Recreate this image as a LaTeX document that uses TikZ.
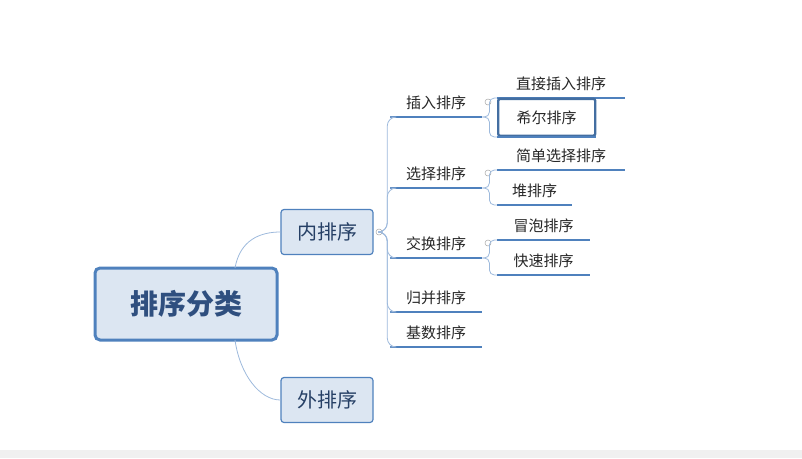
\documentclass[tikz,border=0pt]{standalone}
\usepackage{fontspec}
\setmainfont{Noto Sans CJK SC}
\usepackage{xcolor}
\definecolor{lineblue}{HTML}{4F81BD}
\definecolor{thinblue}{HTML}{9DB9DC}
\definecolor{boxfill}{HTML}{DCE6F2}
\definecolor{titleblue}{HTML}{2F4F7F}
\usetikzlibrary{positioning}

\begin{document}
\begin{tikzpicture}[x=1pt, y=-1pt,
	line/.style={draw=lineblue, line width=1.6pt},
	thin/.style={draw=thinblue, line width=0.8pt, rounded corners=9},
	topic/.style={draw=lineblue, fill=boxfill, rounded corners=3, line width=1.2pt, font=\fontsize{20}{24}\selectfont, text=titleblue!80!black, minimum width=92, minimum height=45},
	item/.style={anchor=south west, minimum height=30, inner xsep=10, font=\fontsize{15}{18}\selectfont, text=black!85, align=left, text depth=0pt, append after command={(\tikzlastnode.south west) edge[line] (\tikzlastnode.south east)}},
	knob/.style={circle, draw=gray!70, line width=0.5pt, minimum size=6, inner sep=0}]
	\fill[black!6] (0,450) rectangle (802,458);
	\useasboundingbox (0,0) rectangle (802,458);

	\node[draw=lineblue, fill=boxfill, rounded corners=5, line width=3pt, minimum width=182, minimum height=72, font=\fontsize{28}{32}\selectfont\bfseries, text=titleblue] (root) at (186,304) {排序分类};
	\node[topic] (inner) at (327,232) {内排序};
	\node[topic] (outer) at (327,400) {外排序};
	\draw[thin] (235,268) .. controls (240,240) and (260,232) .. (inner.west);
	\draw[thin] (235,340) .. controls (240,375) and (260,400) .. (outer.west);

	\node[knob] (k0) at (379,232) {};
	\node[item, minimum width=92] (insert) at (390,117) {插入排序};
	\node[item, minimum width=92] (select) at (390,188) {选择排序};
	\node[item, minimum width=92] (swap) at (390,258) {交换排序};
	\node[item, minimum width=92] (merge) at (390,312) {归并排序};
	\node[item, minimum width=92] (radix) at (390,347) {基数排序};
	\foreach \c in {insert,select,swap,merge,radix}
		\draw[thin] (k0.east) -- ([xshift=5]k0.east) |- (\c.south west);

	\node[knob] (k1) at (488,102) {};
	\node[knob] (k2) at (488,173) {};
	\node[knob] (k3) at (488,243) {};
	\node[item, minimum width=128] (direct) at (497,98) {直接插入排序};
	\node[item, minimum width=97, draw=lineblue!85!black, line width=2.4pt, rounded corners=2, minimum height=37] (shell) at (497,137) {希尔排序};
	\node[item, minimum width=128] (simple) at (497,170) {简单选择排序};
	\node[item, minimum width=75] (heap) at (497,205) {堆排序};
	\node[item, minimum width=93] (bubble) at (497,240) {冒泡排序};
	\node[item, minimum width=93] (quick) at (497,275) {快速排序};
	\foreach \p/\c in {insert/direct,insert/shell,select/simple,select/heap,swap/bubble,swap/quick}
		\draw[thin, rounded corners=5] (\p.south east) -- ([xshift=7]\p.south east) |- (\c.south west);
\end{tikzpicture}
\end{document}
